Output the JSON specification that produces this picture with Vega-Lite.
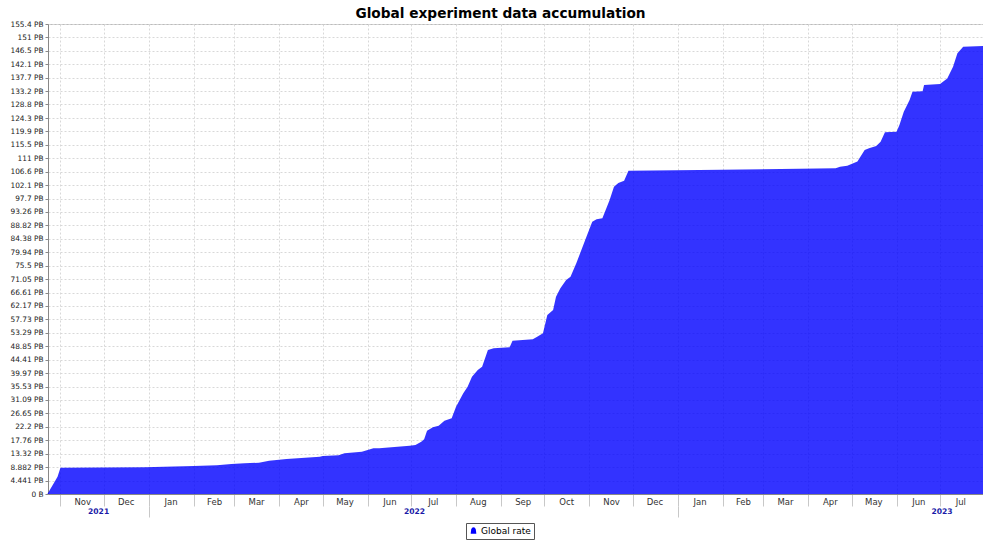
{
  "$schema": "https://vega.github.io/schema/vega-lite/v6.json",
  "autosize": {"type": "none"},
  "padding": {"left": 48, "top": 24, "right": 0, "bottom": 47},
  "width": 935,
  "height": 470,
  "background": "white",
  "title": {
    "text": "Global experiment data accumulation",
    "font": "DejaVu Sans",
    "fontSize": 13.7,
    "fontWeight": "bold",
    "color": "#000000",
    "anchor": "middle",
    "dx": -15,
    "offset": -1
  },
  "config": {
    "font": "DejaVu Sans",
    "view": {"stroke": "#bbbbbb"}
  },
  "data": {
    "values": [
      {"date": "2021-10-23T00:00:00", "pb": 0},
      {"date": "2021-10-28T00:00:00", "pb": 4.07},
      {"date": "2021-10-30T00:00:00", "pb": 5.72},
      {"date": "2021-11-01T00:00:00", "pb": 8.7},
      {"date": "2021-12-29T00:00:00", "pb": 8.83},
      {"date": "2022-02-01T00:00:00", "pb": 9.26},
      {"date": "2022-02-17T00:00:00", "pb": 9.49},
      {"date": "2022-02-27T00:00:00", "pb": 9.92},
      {"date": "2022-03-08T00:00:00", "pb": 10.15},
      {"date": "2022-03-18T00:00:00", "pb": 10.35},
      {"date": "2022-03-25T00:00:00", "pb": 11.01},
      {"date": "2022-04-06T00:00:00", "pb": 11.57},
      {"date": "2022-04-29T00:00:00", "pb": 12.33},
      {"date": "2022-05-01T00:00:00", "pb": 12.56},
      {"date": "2022-05-12T00:00:00", "pb": 12.8},
      {"date": "2022-05-16T00:00:00", "pb": 13.46},
      {"date": "2022-05-28T00:00:00", "pb": 13.99},
      {"date": "2022-06-05T00:00:00", "pb": 15.11},
      {"date": "2022-06-09T00:00:00", "pb": 15.11},
      {"date": "2022-06-30T00:00:00", "pb": 15.97},
      {"date": "2022-07-04T00:00:00", "pb": 16.2},
      {"date": "2022-07-08T00:00:00", "pb": 17.29},
      {"date": "2022-07-10T00:00:00", "pb": 18.09},
      {"date": "2022-07-12T00:00:00", "pb": 20.93},
      {"date": "2022-07-16T00:00:00", "pb": 22.05},
      {"date": "2022-07-20T00:00:00", "pb": 22.58},
      {"date": "2022-07-24T00:00:00", "pb": 24.24},
      {"date": "2022-07-29T00:00:00", "pb": 25.03},
      {"date": "2022-08-01T00:00:00", "pb": 28.86},
      {"date": "2022-08-06T00:00:00", "pb": 33.29},
      {"date": "2022-08-09T00:00:00", "pb": 35.48},
      {"date": "2022-08-12T00:00:00", "pb": 38.78},
      {"date": "2022-08-16T00:00:00", "pb": 41.0},
      {"date": "2022-08-19T00:00:00", "pb": 42.09},
      {"date": "2022-08-23T00:00:00", "pb": 47.61},
      {"date": "2022-08-27T00:00:00", "pb": 48.17},
      {"date": "2022-09-07T00:00:00", "pb": 48.5},
      {"date": "2022-09-09T00:00:00", "pb": 50.69},
      {"date": "2022-09-23T00:00:00", "pb": 51.15},
      {"date": "2022-09-26T00:00:00", "pb": 52.01},
      {"date": "2022-09-30T00:00:00", "pb": 53.13},
      {"date": "2022-10-03T00:00:00", "pb": 59.18},
      {"date": "2022-10-07T00:00:00", "pb": 60.84},
      {"date": "2022-10-09T00:00:00", "pb": 65.24},
      {"date": "2022-10-12T00:00:00", "pb": 68.01},
      {"date": "2022-10-16T00:00:00", "pb": 70.76},
      {"date": "2022-10-19T00:00:00", "pb": 71.85},
      {"date": "2022-10-23T00:00:00", "pb": 76.28},
      {"date": "2022-10-30T00:00:00", "pb": 85.07},
      {"date": "2022-11-03T00:00:00", "pb": 90.03},
      {"date": "2022-11-06T00:00:00", "pb": 90.82},
      {"date": "2022-11-10T00:00:00", "pb": 91.15},
      {"date": "2022-11-15T00:00:00", "pb": 97.21},
      {"date": "2022-11-18T00:00:00", "pb": 101.6},
      {"date": "2022-11-21T00:00:00", "pb": 102.8},
      {"date": "2022-11-25T00:00:00", "pb": 103.6},
      {"date": "2022-11-28T00:00:00", "pb": 106.9},
      {"date": "2023-01-16T00:00:00", "pb": 107.1},
      {"date": "2023-03-26T00:00:00", "pb": 107.5},
      {"date": "2023-04-20T00:00:00", "pb": 107.7},
      {"date": "2023-04-23T00:00:00", "pb": 108.2},
      {"date": "2023-04-28T00:00:00", "pb": 108.5},
      {"date": "2023-05-05T00:00:00", "pb": 109.9},
      {"date": "2023-05-10T00:00:00", "pb": 113.7},
      {"date": "2023-05-13T00:00:00", "pb": 114.3},
      {"date": "2023-05-18T00:00:00", "pb": 115.1},
      {"date": "2023-05-21T00:00:00", "pb": 116.5},
      {"date": "2023-05-24T00:00:00", "pb": 119.6},
      {"date": "2023-06-01T00:00:00", "pb": 119.8},
      {"date": "2023-06-03T00:00:00", "pb": 122.0},
      {"date": "2023-06-06T00:00:00", "pb": 126.4},
      {"date": "2023-06-10T00:00:00", "pb": 130.3},
      {"date": "2023-06-12T00:00:00", "pb": 133.0},
      {"date": "2023-06-19T00:00:00", "pb": 133.2},
      {"date": "2023-06-20T00:00:00", "pb": 135.2},
      {"date": "2023-07-01T00:00:00", "pb": 135.6},
      {"date": "2023-07-06T00:00:00", "pb": 137.4},
      {"date": "2023-07-10T00:00:00", "pb": 141.3},
      {"date": "2023-07-13T00:00:00", "pb": 145.7},
      {"date": "2023-07-17T00:00:00", "pb": 147.9},
      {"date": "2023-07-31T00:00:00", "pb": 148.1}
    ]
  },
  "layer": [
    {
      "mark": {"type": "area", "color": "#0000ff", "opacity": 0.8, "interpolate": "linear"},
      "encoding": {
        "x": {
          "field": "date",
          "type": "temporal",
          "scale": {"domain": [{"year": 2021, "month": 10, "date": 23, "hours": 10}, {"year": 2023, "month": 7, "date": 30, "hours": 16}], "nice": false},
          "axis": {
            "orient": "bottom",
            "title": null,
            "labels": false,
            "values": [
              {"year": 2021, "month": 11, "date": 1}, {"year": 2021, "month": 12, "date": 1},
              {"year": 2022, "month": 1, "date": 1}, {"year": 2022, "month": 2, "date": 1},
              {"year": 2022, "month": 3, "date": 1}, {"year": 2022, "month": 4, "date": 1},
              {"year": 2022, "month": 5, "date": 1}, {"year": 2022, "month": 6, "date": 1},
              {"year": 2022, "month": 7, "date": 1}, {"year": 2022, "month": 8, "date": 1},
              {"year": 2022, "month": 9, "date": 1}, {"year": 2022, "month": 10, "date": 1},
              {"year": 2022, "month": 11, "date": 1}, {"year": 2022, "month": 12, "date": 1},
              {"year": 2023, "month": 1, "date": 1}, {"year": 2023, "month": 2, "date": 1},
              {"year": 2023, "month": 3, "date": 1}, {"year": 2023, "month": 4, "date": 1},
              {"year": 2023, "month": 5, "date": 1}, {"year": 2023, "month": 6, "date": 1},
              {"year": 2023, "month": 7, "date": 1}
            ],
            "tickSize": 12,
            "tickColor": "#c8c8c8",
            "domainColor": "#888888",
            "grid": true,
            "gridColor": "#d8d8d8",
            "gridDash": [2, 2]
          }
        },
        "y": {
          "field": "pb",
          "type": "quantitative",
          "scale": {"domain": [0, 155.4], "nice": false, "zero": true},
          "axis": {
            "title": null,
            "values": [0, 4.441, 8.882, 13.32, 17.76, 22.2, 26.65, 31.09, 35.53, 39.97, 44.41, 48.85, 53.29, 57.73, 62.17, 66.61, 71.05, 75.5, 79.94, 84.38, 88.82, 93.26, 97.7, 102.1, 106.6, 111, 115.5, 119.9, 124.3, 128.8, 133.2, 137.7, 142.1, 146.5, 151, 155.4],
            "labelExpr": "datum.value == 0 ? '0 B' : datum.value + ' PB'",
            "labelFontSize": 7.4,
            "labelColor": "#222222",
            "labelPadding": 2,
            "tickSize": 3,
            "tickColor": "#888888",
            "domainColor": "#888888",
            "grid": true,
            "gridColor": "#d8d8d8",
            "gridDash": [2, 2],
            "labelOverlap": false,
            "labelFlush": false
          }
        },
        "color": {
          "datum": "Global rate",
          "type": "nominal",
          "scale": {"range": ["#0000ff"]},
          "legend": {
            "title": null,
            "orient": "none",
            "legendX": 418,
            "legendY": 499,
            "strokeColor": "#555555",
            "padding": 3,
            "labelFontSize": 9,
            "labelColor": "#000000",
            "symbolType": "M-0.8,0.9 L-0.65,-0.3 Q-0.5,-0.9 0,-0.9 Q0.5,-0.9 0.65,-0.3 L0.8,0.9 Z",
            "symbolSize": 50,
            "symbolOpacity": 1,
            "symbolStrokeWidth": 0,
            "labelOffset": 3
          }
        }
      }
    },
    {
      "mark": {"type": "rule", "opacity": 0},
      "encoding": {
        "x": {
          "field": "date",
          "type": "temporal",
          "axis": {
            "orient": "bottom",
            "title": null,
            "ticks": false,
            "domain": false,
            "grid": false,
            "values": [
              {"year": 2021, "month": 11, "date": 16}, {"year": 2021, "month": 12, "date": 16},
              {"year": 2022, "month": 1, "date": 16}, {"year": 2022, "month": 2, "date": 15},
              {"year": 2022, "month": 3, "date": 16}, {"year": 2022, "month": 4, "date": 16},
              {"year": 2022, "month": 5, "date": 16}, {"year": 2022, "month": 6, "date": 16},
              {"year": 2022, "month": 7, "date": 16}, {"year": 2022, "month": 8, "date": 16},
              {"year": 2022, "month": 9, "date": 16}, {"year": 2022, "month": 10, "date": 16},
              {"year": 2022, "month": 11, "date": 16}, {"year": 2022, "month": 12, "date": 16},
              {"year": 2023, "month": 1, "date": 16}, {"year": 2023, "month": 2, "date": 15},
              {"year": 2023, "month": 3, "date": 16}, {"year": 2023, "month": 4, "date": 16},
              {"year": 2023, "month": 5, "date": 16}, {"year": 2023, "month": 6, "date": 16},
              {"year": 2023, "month": 7, "date": 15}
            ],
            "labelExpr": "timeFormat(datum.value, '%b')",
            "labelFontSize": 8.5,
            "labelColor": "#333333",
            "labelPadding": 3,
            "labelOverlap": false,
            "labelFlush": false
          }
        }
      }
    },
    {
      "mark": {"type": "rule", "opacity": 0},
      "encoding": {
        "x": {
          "field": "date",
          "type": "temporal",
          "axis": {
            "orient": "bottom",
            "title": null,
            "offset": 12,
            "ticks": false,
            "domain": false,
            "grid": false,
            "values": [
              {"year": 2021, "month": 11, "date": 27},
              {"year": 2022, "month": 7, "date": 3},
              {"year": 2023, "month": 7, "date": 2}
            ],
            "labelExpr": "timeFormat(datum.value, '%Y')",
            "labelFontSize": 7.6,
            "labelFontWeight": "bold",
            "labelColor": "#1a1aa8",
            "labelPadding": 1,
            "labelOverlap": false,
            "labelFlush": false
          }
        }
      }
    },
    {
      "mark": {"type": "rule", "opacity": 0},
      "encoding": {
        "x": {
          "field": "date",
          "type": "temporal",
          "axis": {
            "orient": "bottom",
            "title": null,
            "offset": 12,
            "labels": false,
            "domain": false,
            "grid": false,
            "tickSize": 11,
            "tickColor": "#c8c8c8",
            "values": [
              {"year": 2022, "month": 1, "date": 1},
              {"year": 2023, "month": 1, "date": 1}
            ]
          }
        }
      }
    }
  ],
  "resolve": {"axis": {"x": "independent"}}
}
